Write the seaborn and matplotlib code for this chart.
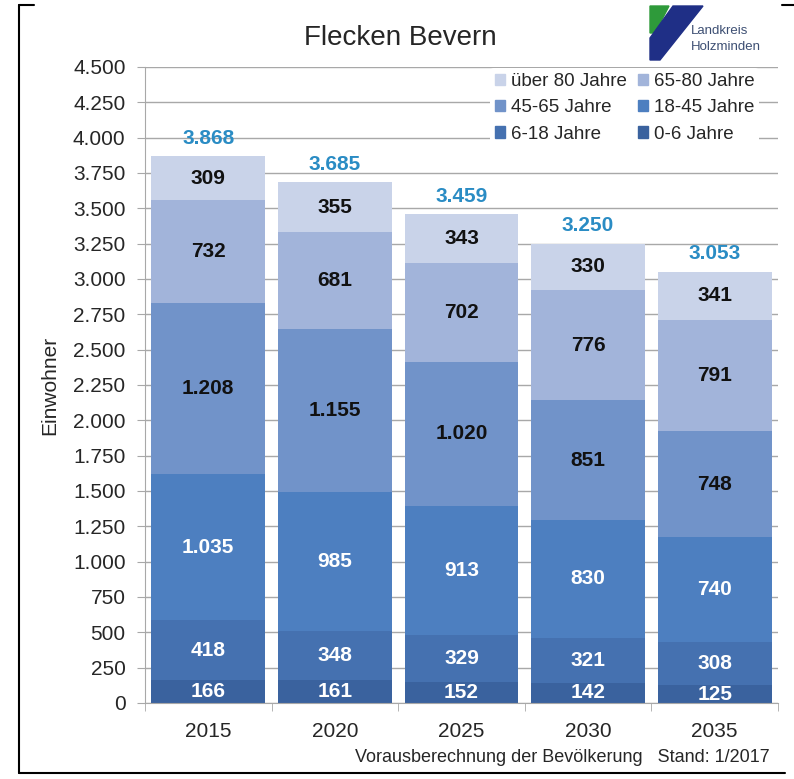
import matplotlib
matplotlib.use('Agg')
import matplotlib.pyplot as plt
import seaborn as sns
import pandas as pd
from matplotlib.lines import Line2D
from matplotlib.patches import Polygon, Patch

sns.set_style('white')
plt.rcParams['font.family'] = ['Liberation Sans', 'DejaVu Sans']

# Daten: Bevölkerungsvorausberechnung Flecken Bevern
jahre = ['2015', '2020', '2025', '2030', '2035']
gruppen = ['0-6 Jahre', '6-18 Jahre', '18-45 Jahre', '45-65 Jahre', '65-80 Jahre', 'über 80 Jahre']
werte_0_6 = [166, 161, 152, 142, 125]
werte_6_18 = [418, 348, 329, 321, 308]
werte_18_45 = [1035, 985, 913, 830, 740]
werte_45_65 = [1208, 1155, 1020, 851, 748]
werte_65_80 = [732, 681, 702, 776, 791]
werte_ueber_80 = [309, 355, 343, 330, 341]
gesamt = [3868, 3685, 3459, 3250, 3053]

farben = ['#3a629e', '#4571b0', '#4d7fc0', '#7193c9', '#a2b4da', '#c9d3e9']
textfarben = ['white', 'white', 'white', '#111111', '#111111', '#111111']

df = pd.DataFrame({'Jahr': jahre})
for g, w in zip(gruppen, [werte_0_6, werte_6_18, werte_18_45, werte_45_65, werte_65_80, werte_ueber_80]):
    df[g] = w

def de(x):
    return f'{int(x):,}'.replace(',', '.')

fig = plt.figure(figsize=(7.94, 7.79), dpi=100)
ax = fig.add_axes([145/794, 1 - 703/779, 633/794, 636/779])

# gestapelte Balken: kumulierte Summen von oben nach unten zeichnen
kum = df[gruppen].cumsum(axis=1)
for g, f in reversed(list(zip(gruppen, farben))):
    sns.barplot(x=df['Jahr'], y=kum[g], color=f, width=0.9, saturation=1,
                linewidth=0, ax=ax)

# Beschriftungen in den Segmenten
for i in range(len(jahre)):
    unten = 0
    for g, tf in zip(gruppen, textfarben):
        w = df.loc[i, g]
        ax.text(i, unten + w / 2, de(w), ha='center', va='center', color=tf,
                fontsize=15, fontweight='bold')
        unten += w
    ax.annotate(de(gesamt[i]), (i, gesamt[i]), xytext=(0, 6), textcoords='offset points',
                ha='center', va='bottom', color='#2a8cc4', fontsize=15, fontweight='bold')

ax.set_ylim(0, 4500)
ax.set_xlim(-0.5, 4.5)
ax.set_yticks(range(0, 4501, 250))
ax.set_yticklabels([de(v) for v in range(0, 4501, 250)])
ax.yaxis.grid(True, color='#a8a8a8', lw=1)
ax.set_axisbelow(True)
for s in ['top', 'right']:
    ax.spines[s].set_visible(False)
for s in ['left', 'bottom']:
    ax.spines[s].set_color('#a8a8a8')
ax.tick_params(axis='y', length=6, color='#a8a8a8', direction='out', labelsize=15, pad=8, left=True)
ax.tick_params(axis='x', which='major', length=0, labelsize=15, pad=14)
ax.set_xticks([-0.5, 0.5, 1.5, 2.5, 3.5, 4.5], minor=True)
ax.tick_params(axis='x', which='minor', length=6, color='#a8a8a8', direction='out', bottom=True)
ax.set_xlabel('')
ax.set_ylabel('Einwohner', fontsize=15, labelpad=10)

# Legende (Reihenfolge spaltenweise)
reihenfolge = ['über 80 Jahre', '45-65 Jahre', '6-18 Jahre', '65-80 Jahre', '18-45 Jahre', '0-6 Jahre']
handles = [Patch(color=farben[gruppen.index(g)]) for g in reihenfolge]
ax.legend(handles, reihenfolge, ncol=2, loc='upper right', bbox_to_anchor=(0.985, 1.013),
          fontsize=13.5, frameon=True, facecolor='white', edgecolor='none', framealpha=1,
          handlelength=0.55, handleheight=0.55, handletextpad=0.3, columnspacing=0.6,
          labelspacing=0.5, borderpad=0.25)

fig.text(400/794, 1 - 38/779, 'Flecken Bevern', ha='center', va='center', fontsize=20)
fig.text(770/794, 1 - 758/779, 'Vorausberechnung der Bevölkerung   Stand: 1/2017',
         ha='right', va='center', fontsize=13)

# Logo Landkreis Holzminden
def px(x, y):
    return (x / 794, 1 - y / 779)
fig.add_artist(Polygon([px(650, 6), px(669, 6), px(655, 33), px(650, 33)],
                       closed=True, color='#2e9a3a', transform=fig.transFigure))
fig.add_artist(Polygon([px(673, 6), px(703, 6), px(660, 60), px(650, 60), px(650, 38)],
                       closed=True, color='#1f2f86', transform=fig.transFigure))
fig.text(691/794, 1 - 31/779, 'Landkreis', fontsize=9.5, color='#3d4f73', va='center')
fig.text(691/794, 1 - 47/779, 'Holzminden', fontsize=9.5, color='#3d4f73', va='center')

# Rahmenlinien
for xs, ys in [([19, 19], [5, 773]), ([19, 34], [5, 5]), ([19, 785], [773, 773]), ([782, 794], [5, 5])]:
    fig.add_artist(Line2D([x / 794 for x in xs], [1 - y / 779 for y in ys], color='black', lw=1.5))

plt.savefig('out.png', dpi=100)
